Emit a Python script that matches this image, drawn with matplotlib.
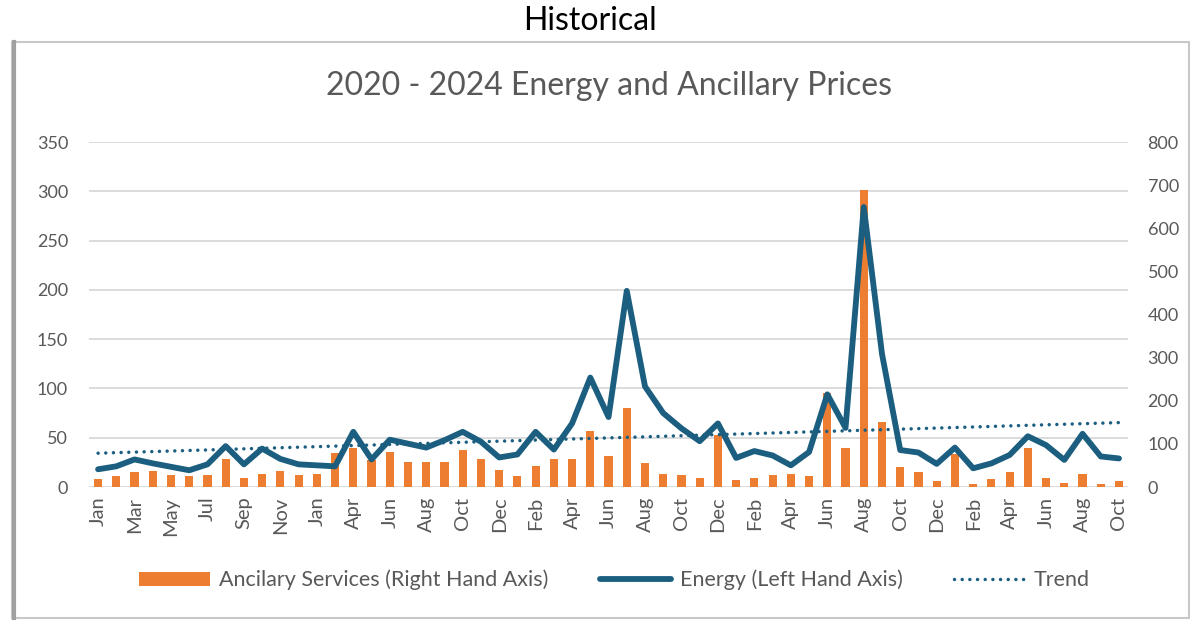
import numpy as np
import matplotlib.pyplot as plt
from matplotlib.patches import Rectangle

plt.rcParams['font.family'] = ['Lato', 'DejaVu Sans']

# monthly categories, Jan 2020 - Oct 2024 (one month missing in early 2021)
months = (['Jan', 'Feb', 'Mar', 'Apr', 'May', 'Jun', 'Jul', 'Aug', 'Sep', 'Oct', 'Nov', 'Dec'] +
          ['Jan', 'Mar', 'Apr', 'May', 'Jun', 'Jul', 'Aug', 'Sep', 'Oct', 'Nov', 'Dec'] +
          ['Jan', 'Feb', 'Mar', 'Apr', 'May', 'Jun', 'Jul', 'Aug', 'Sep', 'Oct', 'Nov', 'Dec'] +
          ['Jan', 'Feb', 'Mar', 'Apr', 'May', 'Jun', 'Jul', 'Aug', 'Sep', 'Oct', 'Nov', 'Dec'] +
          ['Jan', 'Feb', 'Mar', 'Apr', 'May', 'Jun', 'Jul', 'Aug', 'Sep', 'Oct'])

# Energy price (left axis)
energy = [18, 21, 28, 24, 20.5, 17, 23, 41.5, 23, 39, 28.5, 23,
          22, 21, 56, 28, 48, 44, 40, 47.5, 56, 46, 30,
          33, 56, 38, 64.5, 111, 71, 199, 102, 75, 59.5, 46.5, 64.5,
          29.5, 36.5, 32, 22, 35.5, 94, 60, 284, 135, 37.5, 35, 23.5,
          40, 19, 24, 32.5, 51.5, 42.5, 27.5, 54, 31, 29]

# Ancillary services price (right axis)
ancillary = [19.5, 25, 34, 37, 28, 25.5, 29, 64, 22, 31, 37, 28,
             31, 78, 91, 62, 82, 58, 58, 58, 87, 64, 40,
             25, 49, 66, 66, 130, 73, 184, 55, 31, 29, 22, 120,
             17, 22, 29, 31, 25, 219, 91, 688, 151, 46, 34, 13,
             76, 7, 19.5, 34, 91, 22, 10, 31, 7, 13]

blue = '#1b5e80'
orange = '#ed7d31'
gray = '#595959'

x = np.arange(len(months))

fig = plt.figure(figsize=(11.91, 6.22), dpi=100)

# chart frame
fig.patches.append(Rectangle((0.0101, 0.0064), 0.988, 0.926, transform=fig.transFigure,
                             fill=False, edgecolor='#c8c8c8', lw=1.5))
fig.add_artist(plt.Line2D([0.0115, 0.0115], [0.0064, 0.9324], transform=fig.transFigure,
                          color='#a0a0a0', lw=3))

fig.text(0.4954, 1 - 21 / 622, 'Historical', ha='center', va='center', fontsize=23, color='black')
fig.text(0.511, 1 - 86 / 622, '2020 - 2024 Energy and Ancillary Prices', ha='center', va='center',
         fontsize=23, color=gray)

# left axis: grid + ticks
ax = fig.add_axes([0.0747, 0.217, 0.8725, 0.5547])
ax.set_xlim(-0.5, len(months) - 0.5)
ax.set_ylim(0, 350)
ax.set_yticks(range(0, 351, 50))
ax.grid(axis='y', color='#d9d9d9', lw=1.3)
ax.set_xticks(x[::2])
ax.set_xticklabels(months[::2], rotation=90)
ax.tick_params(axis='both', length=0, colors=gray)
ax.tick_params(axis='y', pad=15, labelsize=13)
ax.tick_params(axis='x', pad=7, labelsize=14.5)
for s in ax.spines.values():
    s.set_visible(False)

# right axis: bars
ax2 = ax.twinx()
bars = ax2.bar(x, ancillary, width=0.45, color=orange)
ax2.set_ylim(0, 800)
ax2.set_yticks(range(0, 801, 100))
ax2.tick_params(axis='y', length=0, colors=gray, labelsize=13, pad=14)
for s in ax2.spines.values():
    s.set_visible(False)

# line on top of bars, left scale
ax3 = ax.twinx()
ax3.set_ylim(0, 350)
ax3.axis('off')
line, = ax3.plot(x, energy, color=blue, lw=4.2, solid_joinstyle='round', solid_capstyle='round')
coef = np.polyfit(x, energy, 1)
trend, = ax3.plot(x, np.polyval(coef, x), color=blue, lw=2.5, linestyle=(0, (0.01, 2.2)),
                  dash_capstyle='round')

fig.legend([bars, line, trend],
           ['Ancilary Services (Right Hand Axis)', 'Energy (Left Hand Axis)', 'Trend'],
           loc='center', bbox_to_anchor=(0.516, 1 - 580 / 622), ncol=3, frameon=False,
           fontsize=15.5, labelcolor=gray, handlelength=3.3, handleheight=0.6,
           columnspacing=2.4, handletextpad=0.4)

fig.savefig('out.png', dpi=100)
